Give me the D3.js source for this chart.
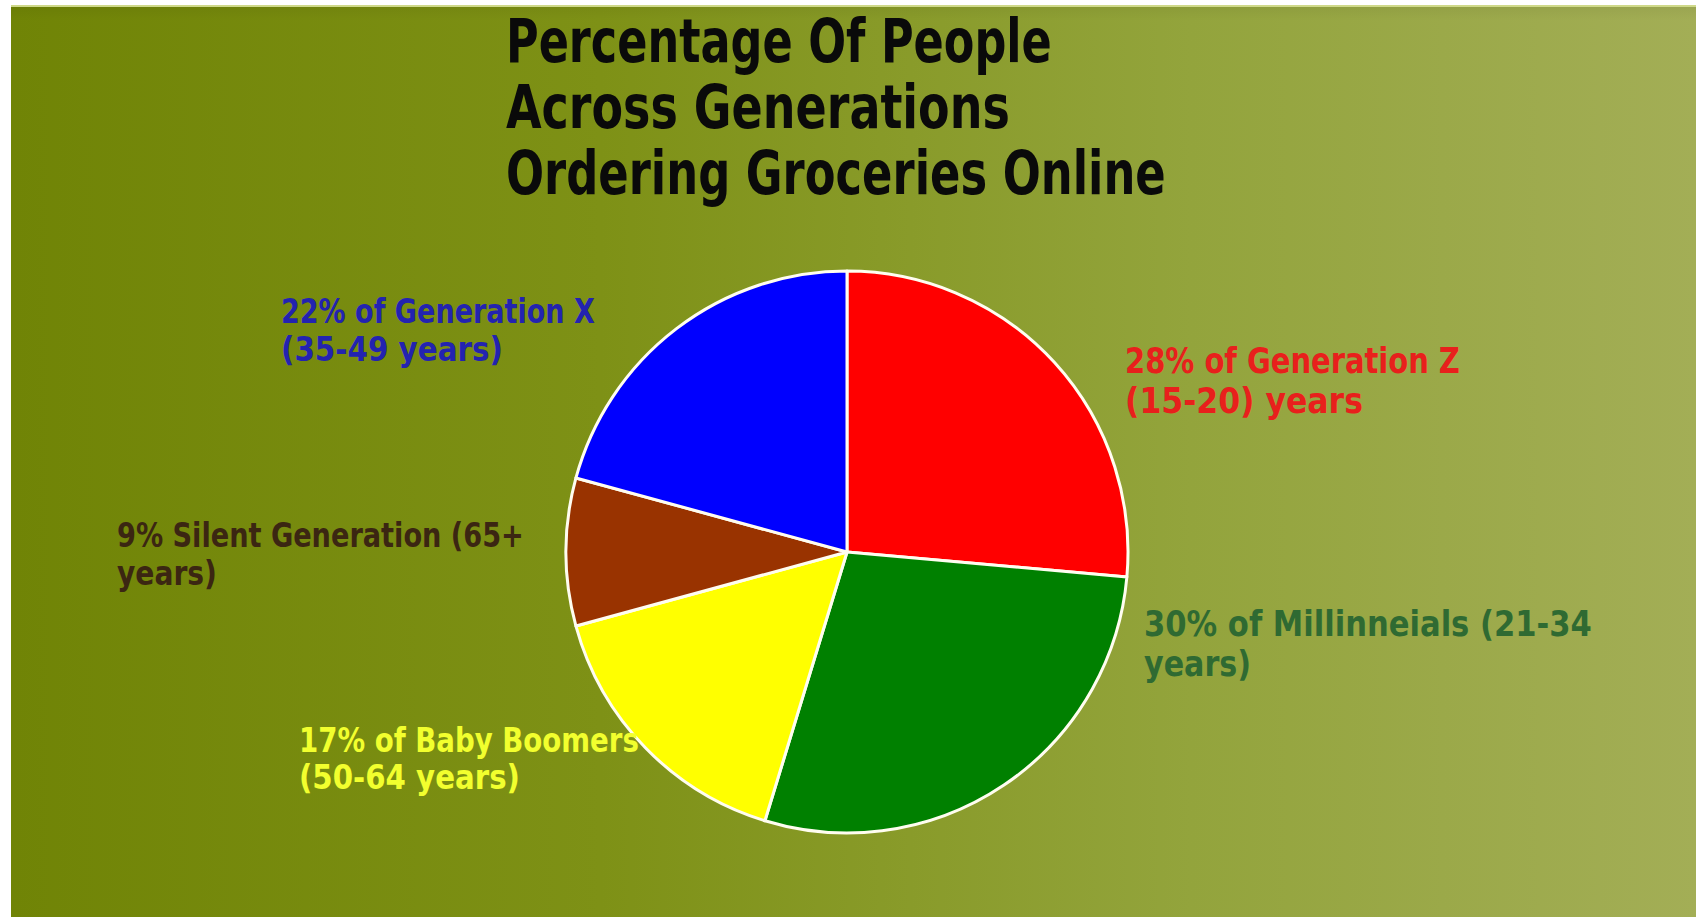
<!DOCTYPE html>
<html>
<head>
<meta charset="utf-8">
<script src="https://cdn.jsdelivr.net/npm/d3@7"></script>
<style>
  html, body { margin: 0; padding: 0; background: #ffffff; overflow: hidden; }
  svg { display: block; }
</style>
</head>
<body>
<svg id="chart" width="1696" height="917"></svg>
<script>
// ---- data ----
const categories = ["Generation Z", "Millinneials", "Baby Boomers", "Silent Generation", "Generation X"];
const values = [28, 30, 17, 9, 22];
const sliceColors = ["#ff0000", "#008000", "#ffff00", "#993300", "#0000ff"];
const labelLines = [
  ["28% of Generation Z", "(15-20) years"],
  ["30% of Millinneials (21-34", "years)"],
  ["17% of Baby Boomers", "(50-64 years)"],
  ["9% Silent Generation (65+", "years)"],
  ["22% of Generation X", "(35-49 years)"]
];
const labelColors = ["#e8201c", "#2f6a32", "#f2ff2e", "#3b2612", "#2323b0"];
const titleLines = ["Percentage Of People", "Across Generations", "Ordering Groceries Online"];

// ---- layout ----
const W = 1696, H = 917;
const cx = 847, cy = 552, R = 281;
const FONT = "'Liberation Sans Narrow', 'DejaVu Sans Condensed', Roboto, 'DejaVu Sans', sans-serif";
const titleWidths = [546, 504, 660];
// label anchor offsets from pie centre, line target widths, font size, line gap
const labelLayout = [
  { dx: 278,  dy: -179, w: [335, 238], fs: 36, gap: 40 },
  { dx: 297,  dy: 84,   w: [448, 107], fs: 35, gap: 40 },
  { dx: -548, dy: 200,  w: [340, 221], fs: 33, gap: 37 },
  { dx: -730, dy: -5,   w: [407, 100], fs: 34, gap: 38 },
  { dx: -566, dy: -229, w: [314, 222], fs: 34, gap: 38 }
];

const svg = d3.select("#chart");
const defs = svg.append("defs");
const grad = defs.append("linearGradient").attr("id", "bg")
  .attr("x1", "0%").attr("x2", "100%").attr("y1", "0%").attr("y2", "0%");
grad.append("stop").attr("offset", "0%").attr("stop-color", "#708406");
grad.append("stop").attr("offset", "35%").attr("stop-color", "#7e9116");
grad.append("stop").attr("offset", "70%").attr("stop-color", "#93a43c");
grad.append("stop").attr("offset", "100%").attr("stop-color", "#a3ae56");

const topGrad = defs.append("linearGradient").attr("id", "topband")
  .attr("x1", "0").attr("x2", "0").attr("y1", "0").attr("y2", "1");
topGrad.append("stop").attr("offset", "0%").attr("stop-color", "#000000").attr("stop-opacity", 0.05);
topGrad.append("stop").attr("offset", "100%").attr("stop-color", "#000000").attr("stop-opacity", 0);

svg.append("rect").attr("width", W).attr("height", H).attr("fill", "#ffffff");
svg.append("rect").attr("x", 11).attr("y", 5).attr("width", W - 11).attr("height", H - 5).attr("fill", "url(#bg)");
svg.append("rect").attr("x", 11).attr("y", 7).attr("width", W - 11).attr("height", 14).attr("fill", "url(#topband)");
svg.append("rect").attr("x", 11).attr("y", 5).attr("width", W - 11).attr("height", 2).attr("fill", "#cfd98a");

function drawLine(parent, x, y, str, target, opts) {
  const t = parent.append("text")
    .attr("x", 0).attr("y", 0)
    .attr("font-family", FONT).attr("font-weight", "bold")
    .attr("font-size", opts.fs).attr("fill", opts.fill)
    .text(str);
  const w0 = t.node().getComputedTextLength();
  t.attr("transform", `translate(${x},${y}) scale(${target / w0},1)`);
  return t;
}

// ---- title ----
const title = svg.append("g");
titleLines.forEach((s, i) => drawLine(title, 506, 62 + i * 66, s, titleWidths[i], { fs: 60, fill: "#0a0a0a" }));

// ---- pie ----
const pie = d3.pie().sort(null).value(d => d)(values);
const arc = d3.arc().innerRadius(0).outerRadius(R);
const g = svg.append("g").attr("transform", `translate(${cx},${cy})`);
g.selectAll("path").data(pie).join("path")
  .attr("d", arc)
  .attr("fill", (d, i) => sliceColors[i])
  .attr("stroke", "#fffdf0")
  .attr("stroke-width", 3)
  .attr("stroke-linejoin", "round");

// ---- labels ----
labelLines.forEach((lines, i) => {
  const L = labelLayout[i];
  const lg = svg.append("g");
  lines.forEach((s, j) => drawLine(lg, cx + L.dx, cy + L.dy + j * L.gap, s, L.w[j], { fs: L.fs, fill: labelColors[i] }));
});
</script>
</body>
</html>
